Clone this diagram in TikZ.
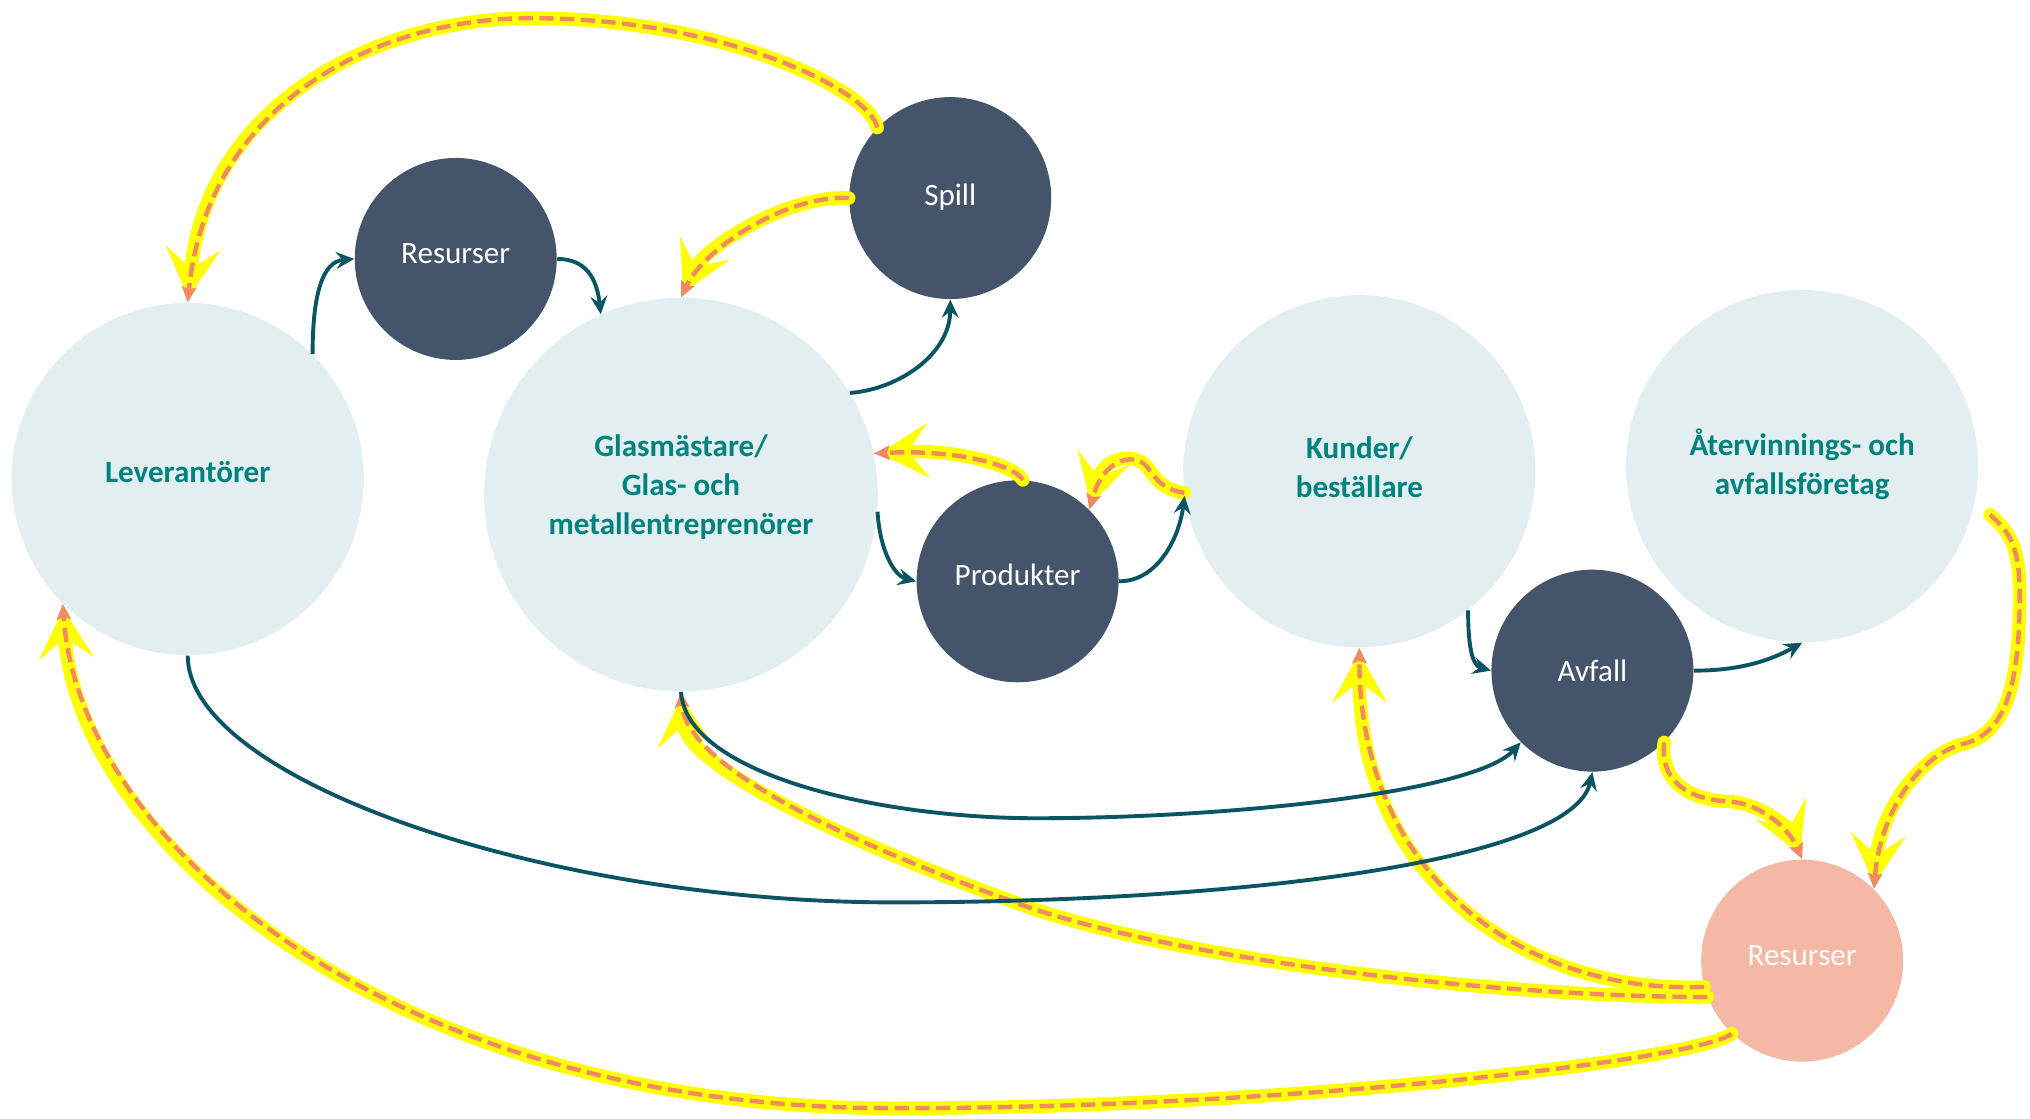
\documentclass[tikz,border=0pt]{standalone}
\usepackage{fontspec}
\setmainfont{Carlito}
\usetikzlibrary{arrows.meta}
\definecolor{lightc}{HTML}{E2EEF0}
\definecolor{darkc}{HTML}{44546A}
\definecolor{salmonc}{HTML}{F5B8A4}
\definecolor{tealtext}{HTML}{00827F}
\definecolor{tealline}{HTML}{0B5563}
\definecolor{dashc}{HTML}{F2895F}
\definecolor{hly}{HTML}{FFFF00}
\begin{document}
\begin{tikzpicture}[x=0.5pt,y=-0.5pt,
  bigc/.style={circle, fill=lightc, minimum size=136pt, inner sep=0pt},
  darkn/.style={circle, fill=darkc, minimum size=78pt, inner sep=0pt},
  bigtxt/.style={align=center, inner sep=0pt, font=\fontsize{12}{15}\selectfont\bfseries, text=tealtext},
  darktxt/.style={inner sep=0pt, font=\fontsize{12}{15}\selectfont, text=white},
  flow/.style={draw=tealline, line width=1.5pt, -{Stealth[length=7pt,width=6.5pt,inset=2.5pt]}},
  hlback/.style={draw=hly, line width=5.2pt, line cap=round, shorten >=2pt,
    -{Stealth[length=19pt,width=21pt,inset=8pt]}},
  hlfront/.style={draw=dashc, line width=1.7pt, dash pattern=on 5.5pt off 2.5pt,
    -{Stealth[length=6pt,width=5.5pt,inset=1pt]}}
]
\useasboundingbox (0,0) rectangle (1568,864);

% circles
\node[bigc] (lev) at (145,370) {};
\node[darkn] (res1) at (352,200) {};
\node[bigc, minimum size=152pt] (glas) at (526,382) {};
\node[darkn] (spill) at (734,153) {};
\node[darkn] (prod) at (786,449) {};
\node[bigc] (kund) at (1050,364) {};
\node[bigc] (ater) at (1392,360) {};
\node[darkn] (avf) at (1230,518) {};
\node[darkn, fill=salmonc] (res2) at (1392,742) {};

% texts
\node[bigtxt] (levt) at ([yshift=2.5pt]lev.center) {Leverantörer};
\node[darktxt] (res1t) at ([yshift=2pt]res1.center) {Resurser};
\node[bigtxt] (glast) at ([yshift=2.8pt]glas.center) {Glasmästare/\\Glas- och\\metallentreprenörer};
\node[darktxt] (spillt) at ([yshift=0.3pt]spill.center) {Spill};
\node[darktxt] (prodt) at ([yshift=2.5pt]prod.center) {Produkter};
\node[bigtxt] (kundt) at ([yshift=1.5pt]kund.center) {Kunder/\\beställare};
\node[bigtxt] (atert) at ([yshift=0.8pt]ater.center) {Återvinnings- och\\avfallsföretag};
\node[darktxt] (avft) at (avf.center) {Avfall};
\node[darktxt] (res2t) at ([yshift=2pt]res2.center) {Resurser};

% highlighted flows (paths)
\def\ypathA{(spill.136) .. controls (672,70) and (560,14) .. (410,14) .. controls (290,14) and (160,80) .. (lev.north)}
\def\ypathB{(spill.west) .. controls (610,150) and (545,190) .. (glas.north)}
\def\ypathC{(prod.87) .. controls (782,358) and (735,347) .. (glas.12)}
\def\ypathD{(kund.187) .. controls (898,378) and (893,370) .. (887,362) .. controls (879,349) and (853,352) .. (prod.45)}
\def\ypathE{([xshift=7pt]ater.-16) .. controls (1554,412) and (1560,425) .. (1560,460) .. controls (1560,540) and (1545,568) .. (1515,575) .. controls (1480,585) and (1452,630) .. (res2.45)}
\def\ypathF{(avf.-45) .. controls (1282,600) and (1300,617) .. (1334,619) .. controls (1360,620) and (1382,640) .. (res2.north)}
\def\ypathG{(res2.195) .. controls (1180,768) and (1050,680) .. (kund.south)}
\def\ypathH{(res2.201) .. controls (1150,770) and (900,740) .. (784,697) .. controls (640,645) and (530,590) .. (glas.south)}
\def\ypathI{(res2.226) .. controls (1315,818) and (1000,856) .. (690,856) .. controls (300,856) and (60,650) .. (lev.225)}

\draw[hlback] \ypathA;
\draw[hlback] \ypathB;
\draw[hlback] \ypathC;
\draw[hlback] \ypathD;
\draw[hlback] \ypathE;
\draw[hlback] \ypathF;
\draw[hlback] \ypathG;
\draw[hlback] \ypathH;
\draw[hlback] \ypathI;

\draw[hlfront] \ypathA;
\draw[hlfront] \ypathB;
\draw[hlfront] \ypathC;
\draw[hlfront] \ypathD;
\draw[hlfront] \ypathE;
\draw[hlfront] \ypathF;
\draw[hlfront] \ypathG;
\draw[hlfront] \ypathH;
\draw[hlfront] \ypathI;

% teal flows
\draw[flow] (lev.45) .. controls +(0,-45) and +(-25,2) .. (res1.west);
\draw[flow] (res1.east) .. controls +(22,0) and +(-3,-28) .. (glas.114);
\draw[flow] (glas.31) .. controls +(38,-3) and +(0,42) .. (spill.south);
\draw[flow] (glas.-5) .. controls +(2,32) and +(-16,-4) .. (prod.west);
\draw[flow] (prod.east) .. controls +(30,0) and +(-4,32) .. (kund.188);
\draw[flow] (kund.-52) .. controls +(0,30) and +(-14,-4) .. (avf.west);
\draw[flow] (avf.east) .. controls +(35,0) and +(-25,14) .. (ater.south);
\draw[flow] (lev.south) .. controls +(0,95) and (420,697) .. (690,697) .. controls (960,697) and (1215,665) .. (avf.south);
\draw[flow] (glas.south) .. controls +(4,64) and (680,632) .. (800,632) .. controls (950,632) and (1140,612) .. (avf.225);
\end{tikzpicture}
\end{document}
